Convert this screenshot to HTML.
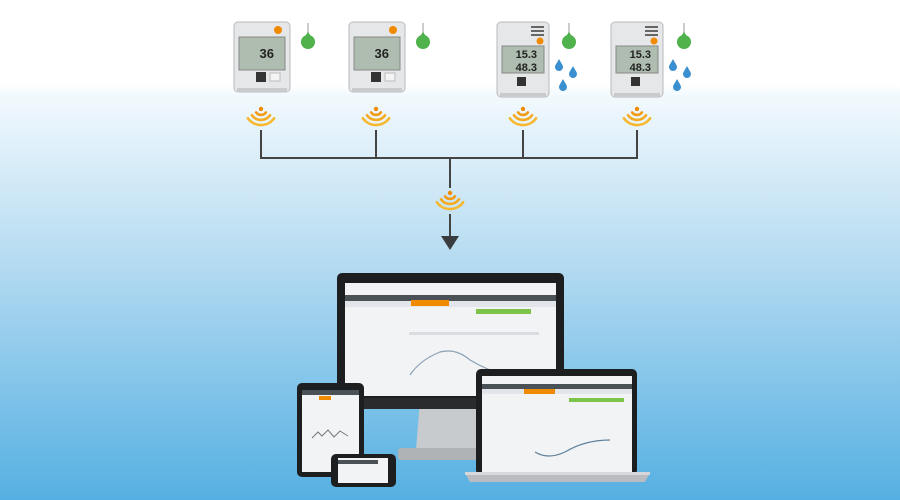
<!DOCTYPE html>
<html><head><meta charset="utf-8"><style>html,body{margin:0;padding:0;width:900px;height:500px;overflow:hidden;font-family:"Liberation Sans",sans-serif}</style></head>
<body>
<svg width="900" height="500" viewBox="0 0 900 500" xmlns="http://www.w3.org/2000/svg">
<defs>
<linearGradient id="bg" x1="0" y1="0" x2="0" y2="1">
<stop offset="0" stop-color="#ffffff"/><stop offset="0.17" stop-color="#ffffff"/><stop offset="0.19" stop-color="#f2f9fd"/><stop offset="0.5" stop-color="#b9ddf2"/><stop offset="1" stop-color="#55b0e2"/>
</linearGradient>
<g id="wifi" fill="none" stroke-width="2.6" stroke-linecap="round">
<circle cx="0" cy="0" r="2.2" fill="#f08a00" stroke="none"/>
<path d="M-4.9,3.4 A6,6 0 0 0 4.9,3.4" stroke="#f29a10"/>
<path d="M-9,6.3 A11,11 0 0 0 9,6.3" stroke="#f5aa20"/>
<path d="M-13.1,9.2 A16,16 0 0 0 13.1,9.2" stroke="#f7b830"/>
</g>
<g id="logA">
<rect x="0" y="0" width="56" height="70" rx="4" fill="#e6e7e9" stroke="#b8babd"/>
<rect x="3" y="66" width="50" height="4" fill="#c9cbcd"/>
<circle cx="44" cy="8" r="4" fill="#f08a00"/>
<rect x="5" y="15" width="46" height="33" fill="#aebdb0" stroke="#888"/>
<text x="40" y="36" font-size="13" text-anchor="end" fill="#222" font-weight="bold">36</text>
<rect x="22" y="50" width="10" height="10" fill="#333"/>
<rect x="36" y="51" width="10" height="8" fill="#f4f4f4" stroke="#bbb"/>
</g>
<g id="logB">
<rect x="0" y="0" width="52" height="75" rx="4" fill="#e6e7e9" stroke="#b8babd"/>
<rect x="3" y="71" width="46" height="4" fill="#c9cbcd"/>
<rect x="34" y="4" width="13" height="2" fill="#666"/><rect x="34" y="8" width="13" height="2" fill="#666"/><rect x="34" y="12" width="13" height="2" fill="#666"/>
<circle cx="43" cy="19" r="3.5" fill="#f08a00"/>
<rect x="5" y="24" width="42" height="27" fill="#aebdb0" stroke="#888"/>
<text x="40" y="36" font-size="11" text-anchor="end" fill="#222" font-weight="bold">15.3</text>
<text x="40" y="49" font-size="11" text-anchor="end" fill="#222" font-weight="bold">48.3</text>
<rect x="20" y="55" width="9" height="9" fill="#333"/>
</g>
<g id="therm">
<rect x="-1" y="-14" width="2" height="14" fill="#ccc"/>
<circle cx="0" cy="5" r="7" fill="#4fb24a"/>
<path d="M-5,2 L0,-5 L5,2Z" fill="#4fb24a"/>
</g>
<g id="drop"><path d="M0,-6 C2,-2 4,0 4,2 A4,4 0 0 1 -4,2 C-4,0 -2,-2 0,-6Z" fill="#3a8fd0"/></g>
</defs>
<rect width="900" height="500" fill="url(#bg)"/>

<!-- loggers -->
<use href="#logA" x="234" y="22"/>
<use href="#logA" x="349" y="22"/>
<use href="#logB" x="497" y="22"/>
<use href="#logB" x="611" y="22"/>
<use href="#therm" x="308" y="37"/>
<use href="#therm" x="423" y="37"/>
<use href="#therm" x="569" y="37"/>
<use href="#therm" x="684" y="37"/>
<use href="#drop" x="559" y="65"/><use href="#drop" x="573" y="72"/><use href="#drop" x="563" y="85"/>
<use href="#drop" x="673" y="65"/><use href="#drop" x="687" y="72"/><use href="#drop" x="677" y="85"/>

<!-- connectors -->
<g stroke="#444" stroke-width="2" fill="none">
<path d="M261,130 V158 H637 V130"/>
<path d="M376,130 V158"/><path d="M523,130 V158"/>
<path d="M450,158 V188"/>
<path d="M450,214 V238"/>
</g>
<path d="M441,236 L459,236 L450,250Z" fill="#3a3d40"/>
<use href="#wifi" x="261" y="109"/>
<use href="#wifi" x="376" y="109"/>
<use href="#wifi" x="523" y="109"/>
<use href="#wifi" x="637" y="109"/>
<use href="#wifi" x="450" y="193"/>

<!-- monitor -->
<path d="M420,400 L480,400 L484,450 L416,450Z" fill="#c8cbce"/>
<rect x="398" y="448" width="104" height="12" rx="3" fill="#b0b3b6"/>
<rect x="337" y="273" width="227" height="136" rx="5" fill="#1d1e20"/>
<rect x="337" y="398" width="227" height="11" fill="#2a2b2d"/>
<rect x="345" y="283" width="211" height="113" fill="#f1f3f5"/>
<rect x="345" y="295" width="211" height="6" fill="#4a5258"/>
<rect x="345" y="301" width="211" height="6" fill="#e2e6ea"/>
<rect x="411" y="300" width="38" height="6" fill="#f08a00"/>
<rect x="476" y="309" width="55" height="5" fill="#7cc34c"/>
<path d="M410,375 Q420,360 440,352 Q456,348 470,360 Q490,372 515,378" stroke="#8aa0b4" fill="none" stroke-width="1.2"/>
<rect x="409" y="332" width="130" height="3" fill="#d9dde1"/>

<!-- laptop -->
<rect x="476" y="369" width="161" height="106" rx="5" fill="#1d1e20"/>
<rect x="482" y="376" width="150" height="96" fill="#f1f3f5"/>
<rect x="482" y="384" width="150" height="5" fill="#4a5258"/>
<rect x="482" y="389" width="150" height="5" fill="#e2e6ea"/>
<rect x="524" y="389" width="31" height="5" fill="#f08a00"/>
<rect x="569" y="398" width="55" height="4" fill="#7cc34c"/>
<path d="M535,452 Q548,460 565,452 Q585,440 610,440" stroke="#5d7f9a" fill="none" stroke-width="1.2"/>
<path d="M465,473 L650,473 L645,482 L470,482Z" fill="#b9bcc0"/>
<rect x="465" y="472" width="185" height="3" fill="#d6d8db"/>

<!-- tablet -->
<rect x="297" y="383" width="67" height="94" rx="5" fill="#1d1e20"/>
<rect x="302" y="390" width="57" height="82" fill="#f1f3f5"/>
<rect x="302" y="390" width="57" height="5" fill="#4a5258"/>
<rect x="319" y="396" width="12" height="4" fill="#f08a00"/>
<path d="M312,438 L318,432 L322,436 L328,430 L334,437 L340,431 L348,436" stroke="#777" fill="none"/>

<!-- phone -->
<rect x="331" y="454" width="65" height="33" rx="5" fill="#1d1e20"/>
<rect x="338" y="458" width="50" height="25" fill="#f1f3f5"/>
<rect x="338" y="460" width="40" height="4" fill="#4a5258"/>
</svg>
</body></html>
